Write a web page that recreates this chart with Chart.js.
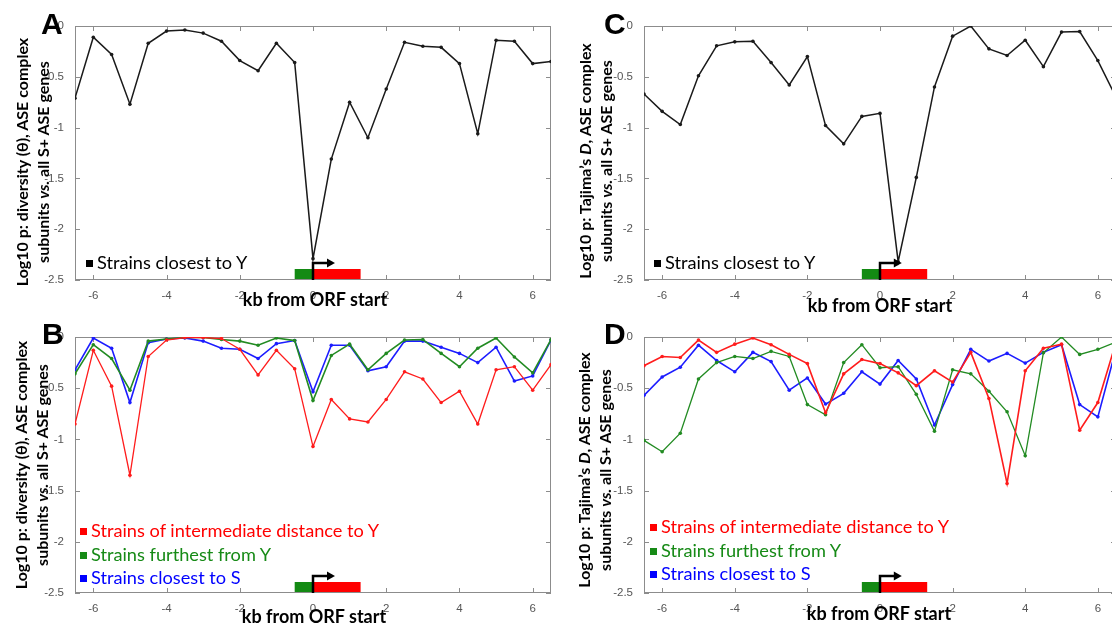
<!DOCTYPE html>
<html>
<head>
<meta charset="utf-8">
<script src="https://cdn.jsdelivr.net/npm/chart.js@4.4.1/dist/chart.umd.min.js"></script>
<style>
  body { margin: 0; width: 1112px; height: 624px; overflow: hidden; background: #fff; position: relative; font-family: Lato, "Open Sans", sans-serif; }
  canvas { position: absolute; }
  .letter { position: absolute; font: bold 30px "Liberation Sans", Arial, sans-serif; line-height: 30px; }
  .ytitle { position: absolute; width: 300px; height: 42px; line-height: 21px; font-weight: bold; font-size: 16px; text-align: center; white-space: nowrap; transform: rotate(-90deg); }
  .xtitle { position: absolute; width: 200px; height: 22px; line-height: 22px; font-weight: bold; font-size: 18px; text-align: center; white-space: nowrap; }
  .legend { position: absolute; font-size: 18.2px; line-height: 23.6px; white-space: nowrap; }
  .legend span.sq { display: inline-block; width: 7px; height: 7px; margin-right: 4px; vertical-align: 2px; }
</style>
</head>
<body>

<canvas id="chartA" style="left:0;top:0" width="555" height="310"></canvas>
<canvas id="chartC" style="left:560px;top:0" width="560" height="310"></canvas>
<canvas id="chartB" style="left:0;top:312px" width="555" height="312"></canvas>
<canvas id="chartD" style="left:560px;top:312px" width="560" height="312"></canvas>

<div class="letter" style="left:41px;top:9px">A</div>
<div class="letter" style="left:604px;top:9px">C</div>
<div class="letter" style="left:42px;top:319px">B</div>
<div class="letter" style="left:604px;top:319px">D</div>

<div class="ytitle" style="left:-118px;top:141px">Log10 p: diversity (θ), ASE complex<br>subunits <i>vs.</i> all S+ ASE genes</div>
<div class="ytitle" style="left:445px;top:140px">Log10 p: Tajima’s <i>D</i>, ASE complex<br>subunits <i>vs.</i> all S+ ASE genes</div>
<div class="ytitle" style="left:-119px;top:444px">Log10 p: diversity (θ), ASE complex<br>subunits <i>vs.</i> all S+ ASE genes</div>
<div class="ytitle" style="left:444px;top:449px">Log10 p: Tajima’s <i>D</i>, ASE complex<br>subunits <i>vs.</i> all S+ ASE genes</div>

<div class="xtitle" style="left:215px;top:288px">kb from ORF start</div>
<div class="xtitle" style="left:780px;top:294px">kb from ORF start</div>
<div class="xtitle" style="left:214px;top:605px">kb from ORF start</div>
<div class="xtitle" style="left:779px;top:602px">kb from ORF start</div>

<div class="legend" style="left:86px;top:251px;color:#000"><span class="sq" style="background:#000"></span>Strains closest to Y</div>
<div class="legend" style="left:654px;top:251px;color:#000"><span class="sq" style="background:#000"></span>Strains closest to Y</div>
<div class="legend" style="left:80px;top:519px">
  <div style="color:#ff0000"><span class="sq" style="background:#ff0000"></span>Strains of intermediate distance to Y</div>
  <div style="color:#168a16"><span class="sq" style="background:#168a16"></span>Strains furthest from Y</div>
  <div style="color:#0000ff"><span class="sq" style="background:#0000ff"></span>Strains closest to S</div>
</div>
<div class="legend" style="left:650px;top:515px">
  <div style="color:#ff0000"><span class="sq" style="background:#ff0000"></span>Strains of intermediate distance to Y</div>
  <div style="color:#168a16"><span class="sq" style="background:#168a16"></span>Strains furthest from Y</div>
  <div style="color:#0000ff"><span class="sq" style="background:#0000ff"></span>Strains closest to S</div>
</div>

<script>
// kb positions of the windows
const KB = [-6.5, -6, -5.5, -5, -4.5, -4, -3.5, -3, -2.5, -2, -1.5, -1, -0.5, 0,
            0.5, 1, 1.5, 2, 2.5, 3, 3.5, 4, 4.5, 5, 5.5, 6, 6.5];

// A: diversity, strains closest to Y
const A_CLOSEST_Y = [-0.71, -0.11, -0.28, -0.77, -0.17, -0.05, -0.04, -0.07, -0.15, -0.34, -0.44, -0.17, -0.36, -2.29,
                     -1.31, -0.75, -1.10, -0.62, -0.16, -0.20, -0.21, -0.37, -1.06, -0.14, -0.15, -0.37, -0.35];

// B: diversity, other strain groups
const B_INTERMEDIATE = [-0.85, -0.13, -0.48, -1.35, -0.19, -0.03, -0.005, -0.005, -0.015, -0.12, -0.37, -0.13, -0.31, -1.07,
                        -0.61, -0.80, -0.83, -0.61, -0.34, -0.41, -0.64, -0.53, -0.85, -0.32, -0.29, -0.52, -0.27];
const B_FURTHEST = [-0.36, -0.075, -0.21, -0.52, -0.04, -0.02, -0.005, -0.005, -0.025, -0.04, -0.08, -0.01, -0.035, -0.62,
                    -0.18, -0.07, -0.32, -0.16, -0.03, -0.025, -0.16, -0.29, -0.11, -0.01, -0.195, -0.35, -0.025];
const B_CLOSEST_S = [-0.32, -0.01, -0.11, -0.64, -0.055, -0.02, -0.01, -0.04, -0.11, -0.12, -0.21, -0.065, -0.035, -0.535,
                     -0.08, -0.08, -0.33, -0.29, -0.04, -0.04, -0.10, -0.16, -0.25, -0.10, -0.43, -0.38, -0.03];

// C: Tajima's D, strains closest to Y
const C_CLOSEST_Y = [-0.67, -0.84, -0.97, -0.49, -0.195, -0.156, -0.15, -0.36, -0.58, -0.30, -0.98, -1.16, -0.89, -0.86,
                     -2.32, -1.49, -0.60, -0.10, 0.0, -0.225, -0.29, -0.14, -0.40, -0.06, -0.055, -0.34, -0.70];

// D: Tajima's D, other strain groups
const D_INTERMEDIATE = [-0.28, -0.19, -0.20, -0.03, -0.15, -0.07, -0.01, -0.075, -0.17, -0.26, -0.74, -0.36, -0.22, -0.26,
                        -0.35, -0.475, -0.33, -0.44, -0.15, -0.60, -1.43, -0.33, -0.11, -0.07, -0.91, -0.64, -0.05];
const D_FURTHEST = [-1.01, -1.12, -0.94, -0.41, -0.25, -0.19, -0.21, -0.14, -0.19, -0.66, -0.76, -0.25, -0.075, -0.30,
                    -0.29, -0.56, -0.92, -0.32, -0.36, -0.53, -0.73, -1.16, -0.155, 0.0, -0.17, -0.12, -0.05];
const D_CLOSEST_S = [-0.57, -0.39, -0.295, -0.08, -0.23, -0.34, -0.15, -0.24, -0.52, -0.40, -0.655, -0.55, -0.34, -0.46,
                     -0.23, -0.41, -0.86, -0.465, -0.12, -0.235, -0.16, -0.255, -0.15, -0.075, -0.66, -0.78, -0.12];

const X_TICKS = [-6, -4, -2, 0, 2, 4, 6];
const Y_TICKS = [0, -0.5, -1, -1.5, -2, -2.5];

// gene sketch along the x axis (kb)
const UPSTREAM = [-0.5, 0];
const ORF = [0, 1.3];
const ARROW_TIP = 0.6;

const RED = '#ff1c1c';
const GREEN = '#228b22';
const BLUE = '#1c1cff';

const framePlugin = {
  id: 'frame',
  beforeDatasetsDraw(chart) {
    const { ctx, chartArea: a, scales: { x, y } } = chart;
    ctx.save();
    ctx.strokeStyle = '#8c8c8c';
    ctx.lineWidth = 1;
    ctx.strokeRect(a.left + 0.5, a.top + 0.5, a.right - a.left - 1, a.bottom - a.top - 1);
    ctx.beginPath();
    x.ticks.forEach(t => {
      const px = Math.round(x.getPixelForValue(t.value)) + 0.5;
      ctx.moveTo(px, a.bottom); ctx.lineTo(px, a.bottom - 5);
      ctx.moveTo(px, a.top); ctx.lineTo(px, a.top + 5);
    });
    y.ticks.forEach(t => {
      const py = Math.round(y.getPixelForValue(t.value)) + 0.5;
      ctx.moveTo(a.left, py); ctx.lineTo(a.left + 5, py);
      ctx.moveTo(a.right, py); ctx.lineTo(a.right - 5, py);
    });
    ctx.stroke();
    ctx.restore();
  },
  afterDatasetsDraw(chart) {
    const { ctx, chartArea: a, scales: { x } } = chart;
    const base = a.bottom - 1;
    ctx.save();
    ctx.fillStyle = '#138a13';
    ctx.fillRect(x.getPixelForValue(UPSTREAM[0]), base - 10, x.getPixelForValue(UPSTREAM[1]) - x.getPixelForValue(UPSTREAM[0]), 10);
    ctx.fillStyle = '#ff0000';
    ctx.fillRect(x.getPixelForValue(ORF[0]), base - 10, x.getPixelForValue(ORF[1]) - x.getPixelForValue(ORF[0]), 10);
    // promoter arrow
    const x0 = x.getPixelForValue(0);
    const tip = x.getPixelForValue(ARROW_TIP);
    ctx.strokeStyle = '#000';
    ctx.lineWidth = 2.5;
    ctx.beginPath();
    ctx.moveTo(x0, base + 1);
    ctx.lineTo(x0, base - 16);
    ctx.lineTo(tip - 6, base - 16);
    ctx.stroke();
    ctx.fillStyle = '#000';
    ctx.beginPath();
    ctx.moveTo(tip, base - 16);
    ctx.lineTo(tip - 8, base - 20.5);
    ctx.lineTo(tip - 8, base - 11.5);
    ctx.closePath();
    ctx.fill();
    ctx.restore();
  }
};

function series(values, color, width) {
  return {
    data: KB.map((k, i) => ({ x: k, y: values[i] })),
    borderColor: color,
    backgroundColor: color,
    borderWidth: width,
    pointRadius: 1.8,
    pointBorderWidth: 0,
    pointBackgroundColor: color,
    tension: 0
  };
}

function makePanel(id, datasets, geo) {
  new Chart(document.getElementById(id), {
    type: 'line',
    data: { datasets },
    options: {
      responsive: false,
      animation: false,
      layout: { padding: { top: geo.top, right: geo.right, left: geo.left, bottom: 0 } },
      plugins: { legend: { display: false }, tooltip: { enabled: false } },
      scales: {
        x: {
          type: 'linear', min: -6.5, max: 6.5,
          grid: { display: false }, border: { display: false },
          afterBuildTicks: s => { s.ticks = X_TICKS.map(v => ({ value: v })); },
          afterFit: s => { s.height = geo.xh; },
          ticks: { color: '#555', padding: 1, maxRotation: 0, autoSkip: false,
                   font: { family: 'Liberation Sans', size: 11.5 } }
        },
        y: {
          min: -2.5, max: 0,
          grid: { display: false }, border: { display: false },
          afterBuildTicks: s => { s.ticks = Y_TICKS.map(v => ({ value: v })); },
          afterFit: s => { s.width = 60; },
          ticks: { color: '#555', padding: 3,
                   callback: v => String(v),
                   font: { family: 'Liberation Sans', size: 11.5 } }
        }
      }
    },
    plugins: [framePlugin]
  });
}

makePanel('chartA', [series(A_CLOSEST_Y, '#1a1a1a', 1.5)], { top: 26, right: 1, left: 15, xh: 30 });
makePanel('chartB', [
  series(B_INTERMEDIATE, RED, 1.3),
  series(B_FURTHEST, GREEN, 1.6),
  series(B_CLOSEST_S, BLUE, 1.6)
], { top: 25, right: 1, left: 15, xh: 31 });
makePanel('chartC', [series(C_CLOSEST_Y, '#1a1a1a', 1.5)], { top: 26, right: 0, left: 24, xh: 30 });
makePanel('chartD', [
  series(D_INTERMEDIATE, RED, 1.6),
  series(D_FURTHEST, GREEN, 1.3),
  series(D_CLOSEST_S, BLUE, 1.6)
], { top: 25, right: 0, left: 24, xh: 31 });
</script>
</body>
</html>
